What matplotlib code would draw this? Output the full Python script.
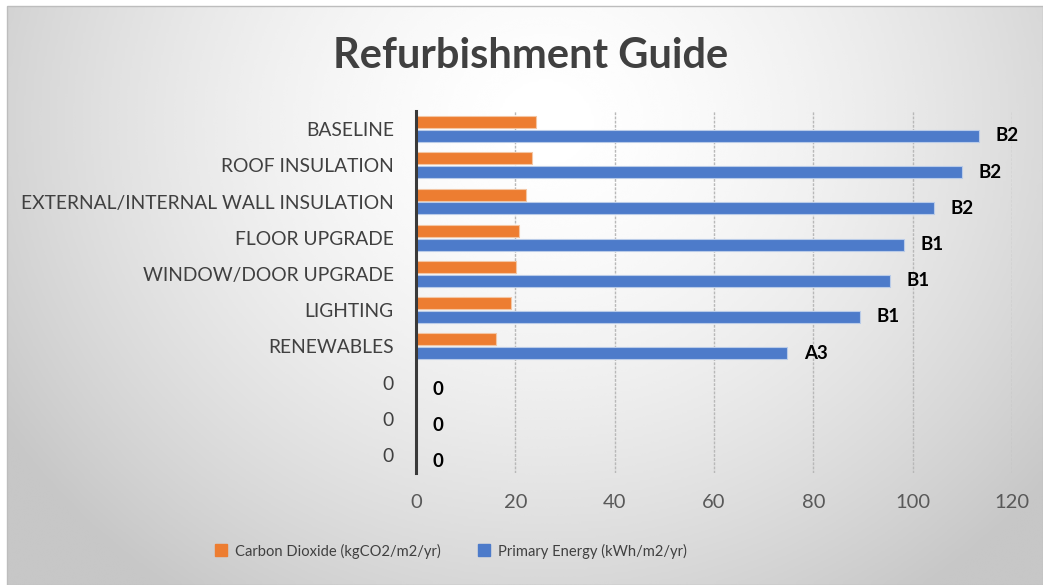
import matplotlib.pyplot as plt
import numpy as np
from matplotlib.lines import Line2D

# Data (top to bottom as shown)
categories = ["BASELINE", "ROOF INSULATION", "EXTERNAL/INTERNAL WALL INSULATION",
              "FLOOR UPGRADE", "WINDOW/DOOR UPGRADE", "LIGHTING", "RENEWABLES",
              "0", "0", "0"]
carbon = [24.2, 23.4, 22.1, 20.7, 20.1, 19.1, 16.1, 0, 0, 0]
energy = [113.3, 110.0, 104.3, 98.3, 95.4, 89.4, 74.7, 0, 0, 0]
ratings = ["B2", "B2", "B2", "B1", "B1", "B1", "A3", "0", "0", "0"]
xticks = [0, 20, 40, 60, 80, 100, 120]

orange = "#ED7D31"
blue = "#4D7BCA"
txt = "#404040"
font = "Lato"

fig = plt.figure(figsize=(10.43, 5.85), dpi=100)

# radial gradient background (chart area framed by a thin white margin)
bg = fig.add_axes([7 / 1043, 0, 1 - 7 / 1043, 1 - 6 / 585])
gx, gy = np.meshgrid(np.linspace(0, 1, 400), np.linspace(0, 1, 240))
r = np.sqrt(((gx - 0.52) / 0.62) ** 2 + ((gy - 0.2) / 1.0) ** 2)
shade = 1 - 0.22 * np.clip(r, 0, 1) ** 1.6
bg.imshow(shade, cmap="gray", vmin=0, vmax=1, aspect="auto",
          extent=[0, 1, 1, 0], interpolation="bicubic")
bg.set_axis_off()
fig.add_artist(plt.Rectangle((7 / 1043, 0), 1 - 7 / 1043, 1 - 6 / 585,
                             transform=fig.transFigure, fill=False,
                             edgecolor="#bdbdbd", lw=1))

ax = fig.add_axes([416 / 1043, 1 - 473 / 585, (1012 - 416) / 1043, (473 - 111) / 585])
ax.patch.set_alpha(0)

y = np.arange(len(categories))
h = 0.33
off = 0.19
ax.barh(y - off, carbon, height=h, color=orange, edgecolor="#f3c6a4", lw=0.8, zorder=3)
ax.barh(y + off, energy, height=h, color=blue, edgecolor="#b9cbe8", lw=0.8, zorder=3)

for yi, v, lab in zip(y, energy, ratings):
    ax.annotate(lab, (v, yi + off), xytext=(12, 0), textcoords="offset points",
                ha="left", va="center", fontsize=13.5, fontweight="bold",
                color="black", family=font)

ax.set_xlim(0, 120)
ax.set_ylim(len(categories) - 0.5, -0.5)
ax.set_xticks(xticks)
ax.set_yticks(y)
ax.set_yticklabels(categories)
ax.tick_params(axis="y", length=0, pad=16, labelsize=13.9, labelcolor=txt)
ax.tick_params(axis="x", length=0, pad=15, labelsize=14.5, labelcolor="#595959")
for lab in ax.get_xticklabels() + ax.get_yticklabels():
    lab.set_family(font)

ax.grid(axis="x", color="#b8b8b8", lw=1, ls=(0, (2, 1)), zorder=0)
for s in ["top", "right", "bottom"]:
    ax.spines[s].set_visible(False)
ax.spines["left"].set_color("#3a3a3a")
ax.spines["left"].set_linewidth(2.2)
ax.spines["left"].set_zorder(4)

fig.text(531 / 1043, 1 - 56 / 585, "Refurbishment Guide", ha="center", va="center",
         fontsize=30, fontweight="bold", color=txt, family=font)

handles = [Line2D([], [], marker="s", ls="", color=orange, markersize=8),
           Line2D([], [], marker="s", ls="", color=blue, markersize=8)]
fig.legend(handles, ["Carbon Dioxide (kgCO2/m2/yr)", "Primary Energy (kWh/m2/yr)"],
           loc="center", bbox_to_anchor=(451 / 1043, 1 - 551 / 585), ncol=2,
           frameon=False, handlelength=0.8, handletextpad=0.5, columnspacing=2.6,
           prop={"family": font, "size": 10.6}, labelcolor=txt)

fig.savefig("out.png", dpi=100)
